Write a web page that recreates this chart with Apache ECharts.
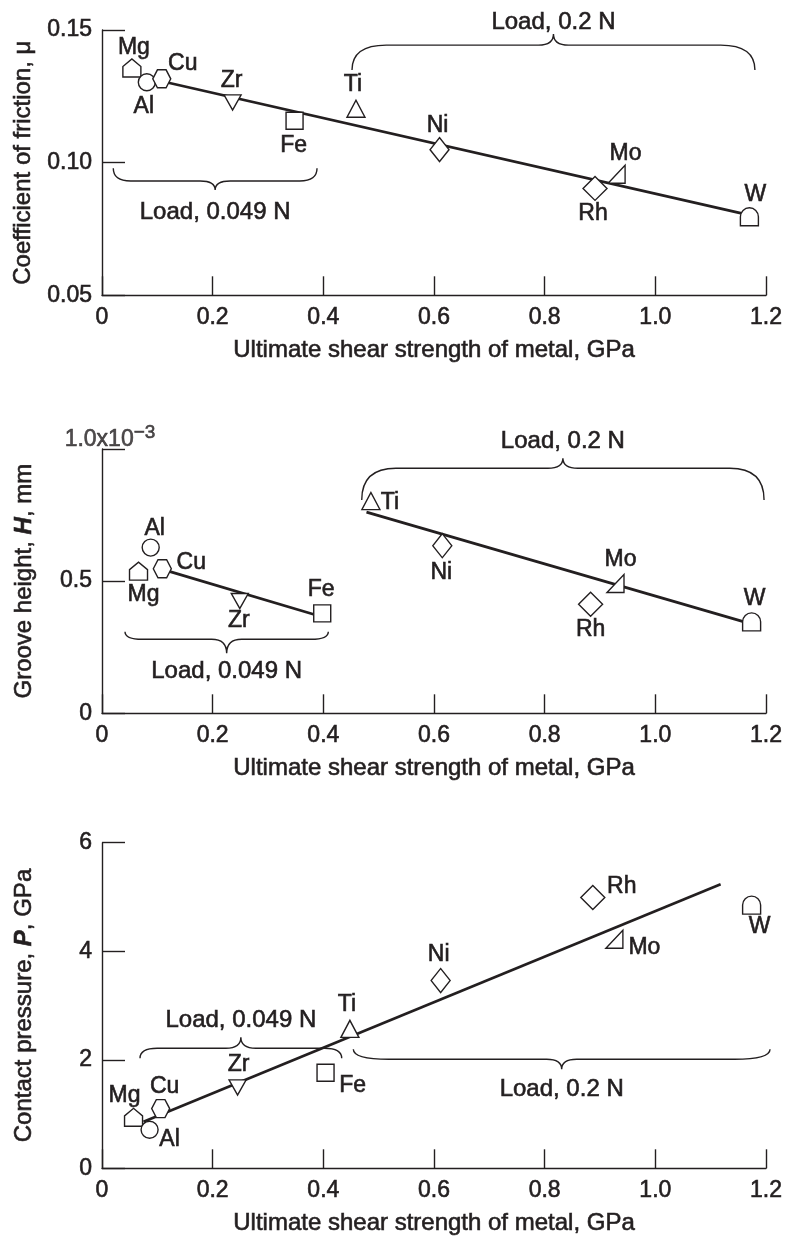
<!DOCTYPE html>
<html><head><meta charset="utf-8">
<script src="https://cdn.jsdelivr.net/npm/echarts@6/dist/echarts.min.js"></script>
<style>html,body{margin:0;padding:0;background:#fff}#c{width:786px;height:1240px}</style>
</head><body><div id="c"></div>
<script>
// ---------------- DATA ----------------
const metals = ['Mg','Al','Cu','Zr','Fe','Ti','Ni','Rh','Mo','W'];

// Panel 1: coefficient of friction
const shear1   = [0.054, 0.081, 0.108, 0.236, 0.348, 0.459, 0.610, 0.891, 0.930, 1.170];
const friction = [0.1357, 0.1303, 0.1316, 0.1227, 0.1158, 0.1203, 0.1049, 0.0903, 0.0956, 0.0796];
const frictionFitX = [0.120, 1.156];
const frictionFitY = [0.1301, 0.0809];

// Panel 2: groove height (x10^-3 mm)
const shear2       = [0.066, 0.088, 0.109, 0.249, 0.398, 0.486, 0.615, 0.883, 0.928, 1.174];
const grooveHeight = [0.538, 0.627, 0.547, 0.425, 0.378, 0.803, 0.634, 0.413, 0.491, 0.346];
const grooveFitLowX  = [0.123, 0.382];
const grooveFitLowY  = [0.536, 0.375];
const grooveFitHighX = [0.478, 1.159];
const grooveFitHighY = [0.761, 0.347];

// Panel 3: contact pressure (GPa)
const shear3   = [0.057, 0.086, 0.106, 0.245, 0.404, 0.448, 0.612, 0.887, 0.926, 1.174];
const pressure = [0.94, 0.71, 1.10, 1.49, 1.76, 2.57, 3.46, 4.99, 4.22, 4.85];
const pressureFitX = [0.075, 1.118];
const pressureFitY = [0.86, 5.235];

// Tick labels
const xTickLabels  = ['0','0.2','0.4','0.6','0.8','1.0','1.2'];
const yTickLabels1 = ['0.05','0.10','0.15'];
const yTickLabels2 = ['0','0.5','1.0'];
const yExponent2   = '\u22123';
const yTickLabels3 = ['0','2','4','6'];

// Load groupings: [xStart, xEnd, yEnds, yBar, yTip, yText] in data units
const loadLabels = ['Load, 0.049 N', 'Load, 0.2 N'];
const braces1 = [[0.0204, 0.3886, 0.0979, 0.0931, 0.0897, 0.0812], [0.4518, 1.180, 0.1349, 0.1443, 0.1485, 0.1528]];
const braces2 = [[0.0416, 0.409, 0.3087, 0.280, 0.227, 0.157], [0.4694, 1.1965, 0.807, 0.927, 0.965, 1.030]];
const braces3 = [[0.0687, 0.4332, 2.028, 2.212, 2.415, 2.734], [0.4542, 1.2073, 2.194, 2.009, 1.825, 1.456]];

// ---------------- STYLE ----------------
const INK = '#231f20';
const FONT = '"Liberation Sans", Arial, Helvetica, sans-serif';
const BOLDEN = {textBorderColor: INK, textBorderWidth: 0.6};
const SYMBOL = {
  Mg: 'path://M0,10 L0,4.2 L5,0 L10,4.2 L10,10 Z',
  Al: 'circle',
  Cu: 'path://M0,5 L2.6,0 L7.4,0 L10,5 L7.4,10 L2.6,10 Z',
  Zr: 'path://M0,0 L10,0 L5,9 Z',
  Fe: 'rect',
  Ti: 'path://M5,0 L10,9 L0,9 Z',
  Ni: 'diamond',
  Rh: 'diamond',
  Mo: 'path://M0,10 L10,0 L10,10 Z',
  W:  'path://M0,10 L0,5 A5,5 0 0 1 10,5 L10,10 Z'
};
const SIZE = {Mg:[18,18], Al:17, Cu:[18,18], Zr:[17,15], Fe:17, Ti:[18,17], Ni:[19,24], Rh:[24,24], Mo:[17,18], W:[18,18]};
const LABEL_OFFSET = [
  {Mg:[2,-20], Al:[-3,24], Cu:[21,-15], Zr:[-1,-22], Fe:[-1,25], Ti:[-3,-24], Ni:[-2,-24], Rh:[-2,25], Mo:[9,-21], W:[6,-22]},
  {Mg:[5,24], Al:[4,-19], Cu:[29,-6], Zr:[-1,20], Fe:[-1,-24], Ti:[19,2], Ni:[-1,27], Rh:[0,26], Mo:[5,-24], W:[3,-23]},
  {Mg:[-9,-22], Al:[20,10], Cu:[4,-22], Zr:[1,-23], Fe:[27,13], Ti:[-3,-24], Ni:[-2,-26], Rh:[29,-11], Mo:[30,8], W:[8,22]}
];

const grids = [
  {left:102, width:664, top:30, height:265.3},
  {left:102, width:664, top:449, height:264.3},
  {left:102, width:664, top:842.7, height:325.6}
];
const yRange = [{min:0.05, max:0.15, interval:0.05}, {min:0, max:1, interval:0.5}, {min:0, max:6, interval:2}];
const yLabels = [yTickLabels1, yTickLabels2, yTickLabels3];
const yNames = ['Coefficient of friction, \u03bc', 'Groove height, {i|H}, mm', 'Contact pressure, {i|P}, GPa'];

function zip(a, b) { return a.map((v, i) => [v, b[i]]); }

function pointSeries(idx, xs, ys) {
  return {
    type: 'scatter', xAxisIndex: idx, yAxisIndex: idx, z: 5, silent: true,
    emphasis: {disabled: true},
    data: metals.map((m, i) => ({
      name: m, value: [xs[i], ys[i]], symbol: SYMBOL[m], symbolSize: SIZE[m],
      label: {offset: LABEL_OFFSET[idx][m]}
    })),
    itemStyle: {color: '#ffffff', borderColor: INK, borderWidth: 1.4, opacity: 1},
    label: Object.assign({show: true, position: 'inside', formatter: p => p.name, color: INK, fontSize: 23, fontFamily: FONT}, BOLDEN)
  };
}
function lineSeries(idx, xs, ys) {
  return {
    type: 'line', xAxisIndex: idx, yAxisIndex: idx, z: 3, silent: true, symbol: 'none',
    data: zip(xs, ys), lineStyle: {color: INK, width: 2.7}, emphasis: {disabled: true}
  };
}
function braceSeries(idx, braces) {
  return {
    type: 'custom', xAxisIndex: idx, yAxisIndex: idx, clip: false, silent: true, z: 4,
    data: braces,
    renderItem(params, api) {
      const x1 = api.value(0), x2 = api.value(1);
      const e1 = api.coord([x1, api.value(2)]), e2 = api.coord([x2, api.value(2)]);
      const yb = api.coord([x1, api.value(3)])[1];
      const yt = api.coord([x1, api.value(4)])[1];
      const ytx = api.coord([x1, api.value(5)])[1];
      const xm = (e1[0] + e2[0]) / 2;
      const w = Math.min(36, (e2[0] - e1[0]) * 0.085), w2 = 15;
      const d = `M${e1[0]} ${e1[1]} Q${e1[0]} ${yb} ${e1[0]+w} ${yb} L${xm-w2} ${yb} Q${xm} ${yb} ${xm} ${yt} Q${xm} ${yb} ${xm+w2} ${yb} L${e2[0]-w} ${yb} Q${e2[0]} ${yb} ${e2[0]} ${e2[1]}`;
      return {type: 'group', children: [
        {type: 'path', shape: {pathData: d}, style: {fill: 'none', stroke: INK, lineWidth: 1.4}},
        {type: 'text', style: {text: loadLabels[params.dataIndex], x: xm, y: ytx, textAlign: 'center', textVerticalAlign: 'middle', align: 'center', verticalAlign: 'middle', fill: INK, stroke: INK, lineWidth: 0.6, font: `24px ${FONT}`}}
      ]};
    }
  };
}

const xAxes = grids.map((g, i) => ({
  gridIndex: i, type: 'value', min: 0, max: 1.2, interval: 0.2,
  axisLine: {show: true, onZero: false, lineStyle: {color: INK, width: 1.4}},
  axisTick: {show: true, inside: true, length: 19, lineStyle: {color: INK, width: 1.4}},
  splitLine: {show: false},
  axisLabel: Object.assign({margin: 11, color: INK, fontSize: 23, fontFamily: FONT,
    formatter: v => xTickLabels[Math.round(v / 0.2)]}, BOLDEN),
  name: 'Ultimate shear strength of metal, GPa', nameLocation: 'middle', nameGap: 43,
  nameTextStyle: Object.assign({color: INK, fontSize: 24, fontFamily: FONT}, BOLDEN)
}));
const yAxes = grids.map((g, i) => ({
  gridIndex: i, type: 'value', min: yRange[i].min, max: yRange[i].max, interval: yRange[i].interval,
  axisLine: {show: true, onZero: false, lineStyle: {color: INK, width: 1.4}},
  axisTick: {show: true, inside: true, length: 23, lineStyle: {color: INK, width: 1.4}},
  splitLine: {show: false},
  axisLabel: Object.assign({margin: 10, color: INK, fontSize: 23, fontFamily: FONT,
    formatter: v => {
      const k = Math.round((v - yRange[i].min) / yRange[i].interval);
      if (i === 1 && k === 2) return '';
      return yLabels[i][k];
    }}, BOLDEN),
  name: yNames[i], nameLocation: 'middle', nameGap: 66,
  nameTextStyle: Object.assign({color: INK, fontSize: 24, fontFamily: FONT,
    rich: {i: Object.assign({fontSize: 24, fontWeight: 'bold', fontStyle: 'italic', fontFamily: FONT, color: INK}, BOLDEN)}}, BOLDEN)
}));

const option = {
  animation: false,
  backgroundColor: '#ffffff',
  grid: grids.map(g => Object.assign({containLabel: false, outerBoundsMode: 'none'}, g)),
  xAxis: xAxes,
  yAxis: yAxes,
  series: [
    lineSeries(0, frictionFitX, frictionFitY),
    pointSeries(0, shear1, friction),
    braceSeries(0, braces1),
    lineSeries(1, grooveFitLowX, grooveFitLowY),
    lineSeries(1, grooveFitHighX, grooveFitHighY),
    pointSeries(1, shear2, grooveHeight),
    braceSeries(1, braces2),
    {
      type: 'scatter', xAxisIndex: 1, yAxisIndex: 1, silent: true, z: 6,
      symbolSize: 1, itemStyle: {color: 'rgba(0,0,0,0)', borderWidth: 0},
      data: [[0, yRange[1].max]],
      label: {show: true, position: 'inside', offset: [8, -9], color: INK,
        formatter: () => `{m|${yTickLabels2[2]}x10}{s|${yExponent2}}`,
        rich: {m: Object.assign({fontSize: 23, fontFamily: FONT, color: INK}, BOLDEN),
               s: Object.assign({fontSize: 19, fontFamily: FONT, color: INK, padding: [0, 0, 14, 0]}, BOLDEN)}}
    },
    lineSeries(2, pressureFitX, pressureFitY),
    pointSeries(2, shear3, pressure),
    braceSeries(2, braces3)
  ]
};
const chart = echarts.init(document.getElementById('c'), null, {renderer: 'canvas'});
chart.setOption(option);
</script>
</body></html>
